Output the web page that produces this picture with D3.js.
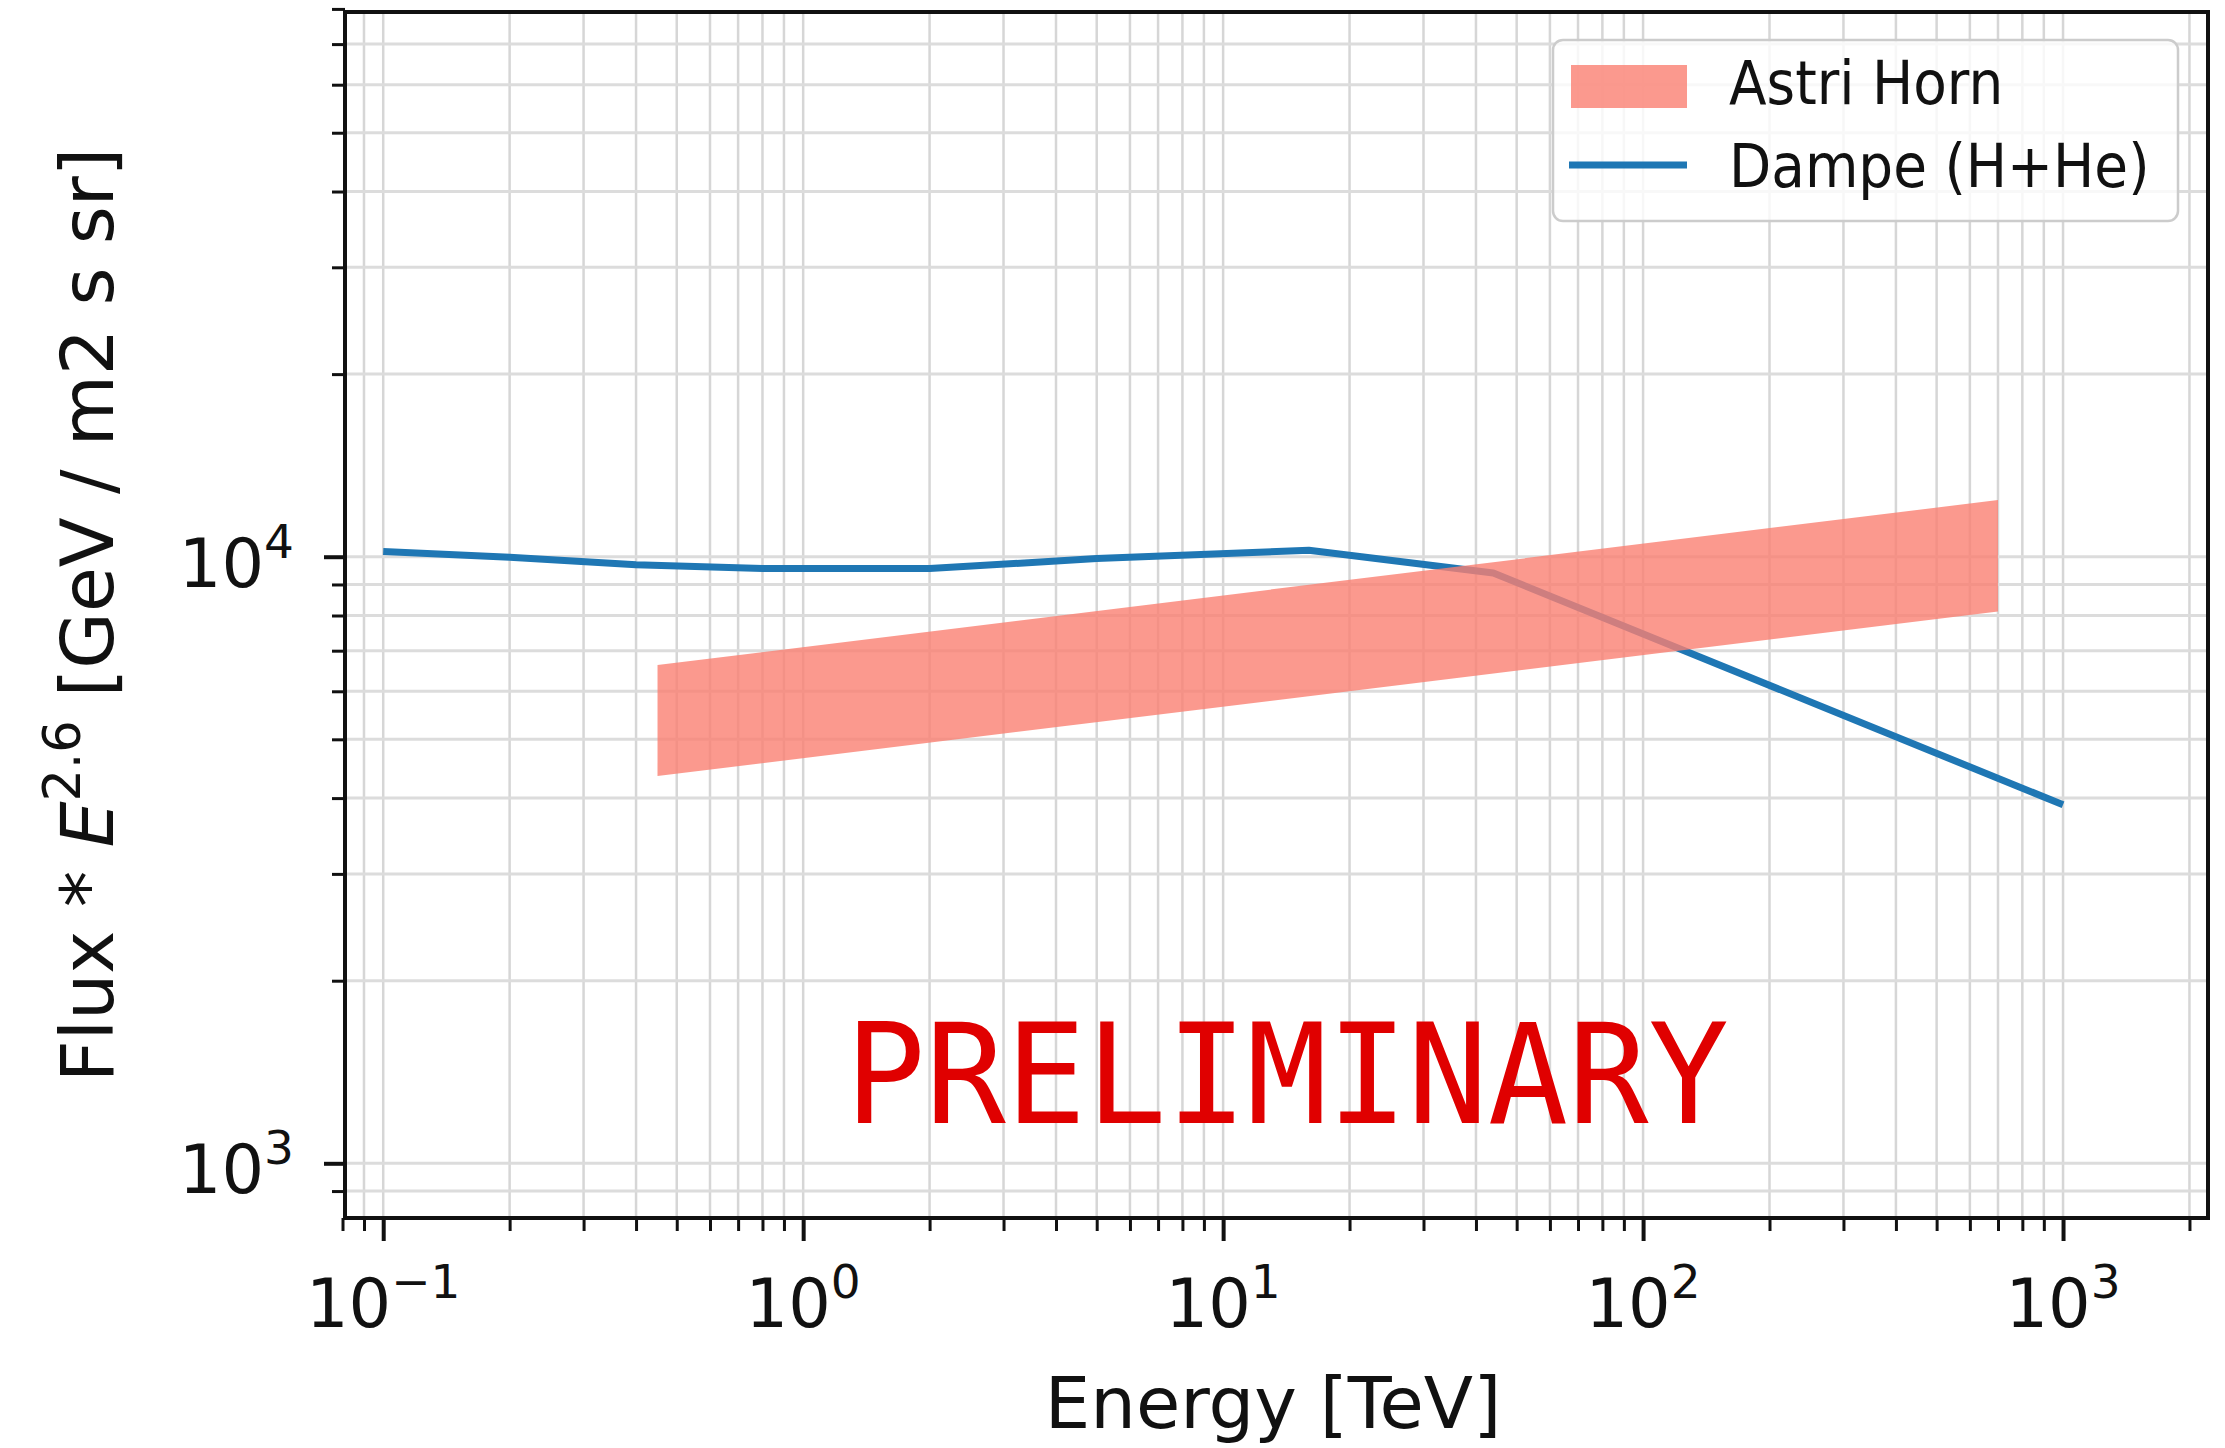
<!DOCTYPE html>
<html>
<meta charset="UTF-8">

<head>
  <script src="https://cdn.jsdelivr.net/npm/d3@7"></script>
  <style>
    body { margin: 0; background: #fff; }
    text { font-family: "DejaVu Sans", sans-serif; fill: #111; }
  </style>
</head>

<body>
  <svg id="chart" width="2225" height="1448"></svg>

  <script type="text/javascript">
    // Dampe (H+He), flux * E^2.6
    const dampeEnergy = [0.1, 0.2, 0.4, 0.8, 2, 5, 16, 44, 1000]
    const dampeFlux = [10200, 9980, 9700, 9560, 9560, 9930, 10250, 9400, 3900]

    // Astri Horn band edges
    const astriEnergy = [0.45, 700]
    const astriLow = [4350, 8120]
    const astriHigh = [6630, 12400]

    const xTickExp = [-1, 0, 1, 2, 3]
    const yTickExp = [3, 4]
    const legendLabels = ["Astri Horn", "Dampe (H+He)"]

    const plotL = 345, plotR = 2208, plotT = 12, plotB = 1218

    const x = d3.scaleLog().domain([0.0811, 2214]).range([plotL, plotR])
    const y = d3.scaleLog().domain([812.5, 79070]).range([plotB, plotT])

    const svg = d3.select("#chart")

    // all 1..9 multiples of each decade that land on the axes (small tolerance like matplotlib)
    function logTicks(scale, lo, hi) {
      const out = []
      for (let e = -3; e <= 6; e++) {
        for (let m = 1; m <= 9; m++) {
          const v = m * Math.pow(10, e)
          const p = scale(v)
          if (p >= lo - 4 && p <= hi + 4) out.push(v)
        }
      }
      return out
    }
    const xAll = logTicks(x, plotL, plotR)
    const yAll = logTicks(y, plotT, plotB)
    const isMajor = v => Math.abs(Math.log10(v) - Math.round(Math.log10(v))) < 1e-9

    // grid, major + minor
    const grid = svg.append("g").attr("id", "grid")
    grid.selectAll("line.gx")
      .data(xAll.filter(v => x(v) > plotL + 1 && x(v) < plotR - 1))
      .enter().append("line")
      .attr("class", "gx")
      .attr("x1", d => x(d)).attr("x2", d => x(d))
      .attr("y1", plotT).attr("y2", plotB)
      .style("stroke", "#d6d6d6")
      .style("stroke-width", 2.5)
    grid.selectAll("line.gy")
      .data(yAll.filter(v => y(v) > plotT + 1 && y(v) < plotB - 1))
      .enter().append("line")
      .attr("class", "gy")
      .attr("y1", d => y(d)).attr("y2", d => y(d))
      .attr("x1", plotL).attr("x2", plotR)
      .style("stroke", "#dcdcdc")
      .style("stroke-width", 3)

    // Dampe line
    const line = d3.line()
      .x(d => x(d[0]))
      .y(d => y(d[1]))
    svg.append("path")
      .datum(d3.zip(dampeEnergy, dampeFlux))
      .attr("d", line)
      .style("fill", "none")
      .style("stroke", "#1f77b4")
      .style("stroke-width", 7)
      .style("stroke-linejoin", "round")

    // Astri Horn band on top, semi transparent
    const area = d3.area()
      .x(d => x(d[0]))
      .y0(d => y(d[1]))
      .y1(d => y(d[2]))
    svg.append("path")
      .datum(d3.zip(astriEnergy, astriLow, astriHigh))
      .attr("d", area)
      .style("fill", "salmon")
      .style("fill-opacity", 0.8)

    // ticks
    const xAxisG = svg.append("g").attr("transform", `translate(0,${plotB})`)
    xAxisG.append("g")
      .call(d3.axisBottom(x).tickValues(xAll.filter(v => !isMajor(v))).tickSize(13).tickFormat(""))
      .call(g => g.select(".domain").remove())
      .call(g => g.selectAll("line").style("stroke", "#111").style("stroke-width", 3))
    xAxisG.append("g")
      .call(d3.axisBottom(x).tickValues(xAll.filter(isMajor)).tickSize(23).tickFormat(""))
      .call(g => g.select(".domain").remove())
      .call(g => g.selectAll("line").style("stroke", "#111").style("stroke-width", 4))

    const yAxisG = svg.append("g").attr("transform", `translate(${plotL},0)`)
    yAxisG.append("g")
      .call(d3.axisLeft(y).tickValues(yAll.filter(v => !isMajor(v))).tickSize(13).tickFormat(""))
      .call(g => g.select(".domain").remove())
      .call(g => g.selectAll("line").style("stroke", "#111").style("stroke-width", 3))
    yAxisG.append("g")
      .call(d3.axisLeft(y).tickValues(yAll.filter(isMajor)).tickSize(21).tickFormat(""))
      .call(g => g.select(".domain").remove())
      .call(g => g.selectAll("line").style("stroke", "#111").style("stroke-width", 4))

    // frame
    svg.append("rect")
      .attr("x", plotL).attr("y", plotT)
      .attr("width", plotR - plotL).attr("height", plotB - plotT)
      .style("fill", "none")
      .style("stroke", "#111")
      .style("stroke-width", 4)

    // tick labels 10^n
    function powerLabel(sel, e) {
      sel.append("tspan").text("10")
      sel.append("tspan")
        .attr("dy", -29)
        .style("font-size", "47px")
        .text(e < 0 ? "\u2212" + (-e) : String(e))
    }
    xTickExp.forEach(e => {
      svg.append("text")
        .attr("x", x(Math.pow(10, e)))
        .attr("y", 1327)
        .attr("text-anchor", "middle")
        .style("font-size", "67px")
        .call(powerLabel, e)
    })
    yTickExp.forEach(e => {
      svg.append("text")
        .attr("x", 294)
        .attr("y", y(Math.pow(10, e)) + 30)
        .attr("text-anchor", "end")
        .style("font-size", "67px")
        .call(powerLabel, e)
    })

    // axis labels
    svg.append("text")
      .attr("x", 1273)
      .attr("y", 1428)
      .attr("text-anchor", "middle")
      .style("font-size", "72px")
      .text("Energy [TeV]")

    const yl = svg.append("text")
      .attr("transform", `translate(113,${(plotT + plotB) / 2}) rotate(-90)`)
      .attr("text-anchor", "middle")
      .style("font-size", "73px")
    yl.append("tspan").text("Flux * ")
    yl.append("tspan").style("font-style", "italic").text("E")
    yl.append("tspan").attr("dy", -33).style("font-size", "51px").text("2.6")
    yl.append("tspan").attr("dy", 33).text(" [GeV / m2 s sr]")

    // watermark
    svg.append("text")
      .attr("transform", "translate(1287,1123) scale(0.96,1)")
      .attr("text-anchor", "middle")
      .style("font-family", "'DejaVu Sans Mono', monospace")
      .style("font-size", "139px")
      .style("fill", "#e00000")
      .text("PRELIMINARY")

    // legend
    const leg = svg.append("g").attr("id", "legend")
    leg.append("rect")
      .attr("x", 1553).attr("y", 40)
      .attr("width", 625).attr("height", 181)
      .attr("rx", 10)
      .style("fill", "#fff")
      .style("fill-opacity", 0.8)
      .style("stroke", "#cccccc")
      .style("stroke-width", 2.5)
    leg.append("rect")
      .attr("x", 1571).attr("y", 65)
      .attr("width", 116).attr("height", 43)
      .style("fill", "salmon")
      .style("fill-opacity", 0.8)
    leg.append("line")
      .attr("x1", 1569).attr("x2", 1687)
      .attr("y1", 165).attr("y2", 165)
      .style("stroke", "#1f77b4")
      .style("stroke-width", 7)
    leg.selectAll("text")
      .data(legendLabels)
      .enter().append("text")
      .attr("transform", (d, i) => `translate(1729,${i === 0 ? 104 : 187}) scale(0.9,1)`)
      .style("font-size", "61px")
      .text(d => d)
  </script>
</body>

</html>
